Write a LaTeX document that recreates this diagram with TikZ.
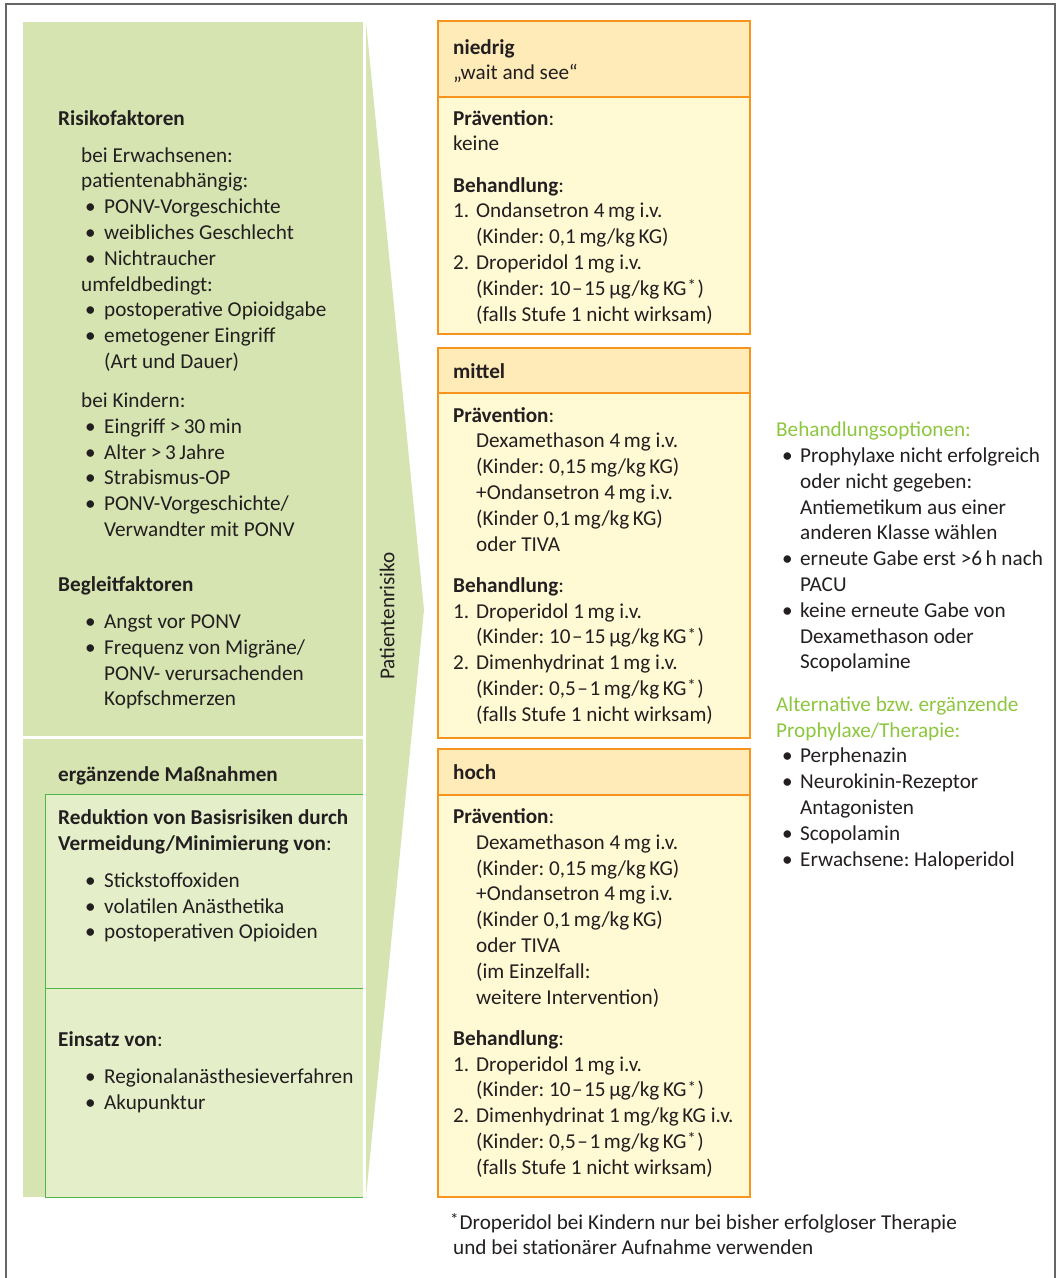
\documentclass[tikz,border=0pt]{standalone}
\usepackage{fontspec}
\setmainfont{Carlito}
\definecolor{greenA}{HTML}{D5E4B1}
\definecolor{greenB}{HTML}{E4EFCA}
\definecolor{greenLine}{HTML}{4DB848}
\definecolor{orangeB}{HTML}{F7941D}
\definecolor{hdr}{HTML}{FFEBB8}
\definecolor{bodyc}{HTML}{FFF9D4}
\definecolor{ink}{HTML}{231F20}
\definecolor{greenHead}{HTML}{8DC63F}
\definecolor{frameg}{HTML}{666666}
\newcommand\blk[2]{\parbox[t]{#1}{\raggedright\frenchspacing\fontsize{21.2}{25.8}\selectfont #2}}
\newcommand\lbu{\hspace*{27pt}\makebox[19pt][l]{•}}
\newcommand\lco{\hspace*{46pt}}
\newcommand\lsub{\hspace*{23pt}}
\newcommand\rbu{\hspace*{6pt}\makebox[18pt][l]{•}}
\newcommand\rco{\hspace*{24pt}}
\newcommand\bn[1]{\makebox[23pt][l]{#1}}
\newcommand\bi{\hspace*{23pt}}
\newcommand\astx{\raisebox{0.35ex}{\fontsize{17}{17}\selectfont *}}
\newcommand\stern{\kern1pt\astx\kern1.5pt}
\newcommand\bis{\kern1.5pt–\kern1.5pt}
\begin{document}
\begin{tikzpicture}[x=1pt,y=-1pt,
  txt/.style={anchor=base west, inner sep=0pt, text=ink},
  boxline/.style={draw=orangeB, line width=1.3pt},
  greenrule/.style={draw=greenLine, line width=1pt}]
\useasboundingbox (0,0) rectangle (1056,1278);
% outer frame
\draw[frameg, line width=2pt] (6,1278) -- (6,4) -- (1055,4) -- (1055,1278);
% left panel
\fill[greenA] (23,22) rectangle (363,736);
\fill[greenA] (23,739) rectangle (363,1197);
\fill[greenB] (45,794) rectangle (363,1197);
\draw[greenrule] (363,794) -- (45,794) -- (45,1197) -- (363,1197);
\draw[greenrule] (45,988) -- (363,988);
% arrow wedge
\fill[greenA] (366,22) -- (424,610) -- (366,1197) -- cycle;
\node[rotate=90, inner sep=0pt, text=ink, font=\fontsize{21.2}{25}\selectfont] (pr) at (387,616) {Patientenrisiko};
% left texts
\node[txt] (risk) at (58,125) {\blk{300pt}{%
\textbf{Risikofaktoren}\\[11.2pt]
\lsub bei Erwachsenen:\\
\lsub patientenabhängig:\\
\lbu PONV-Vorgeschichte\\
\lbu weibliches Geschlecht\\
\lbu Nichtraucher\\
\lsub umfeldbedingt:\\
\lbu postoperative Opioidgabe\\
\lbu emetogener Eingriff\\
\lco (Art und Dauer)\\[13.2pt]
\lsub bei Kindern:\\
\lbu Eingriff >\,30\,min\\
\lbu Alter >\,3\,Jahre\\
\lbu Strabismus-OP\\
\lbu PONV-Vorgeschichte/\\
\lco Verwandter mit PONV\\[29.2pt]
\textbf{Begleitfaktoren}\\[11.2pt]
\lbu Angst vor PONV\\
\lbu Frequenz von Migräne/\\
\lco PONV- verursachenden\\
\lco Kopfschmerzen}};
\node[txt] (erg) at (58,781) {\blk{300pt}{\textbf{ergänzende Maßnahmen}}};
\node[txt] (red) at (58,824.5) {\blk{310pt}{%
\textbf{Reduktion von Basisrisiken durch}\\
\textbf{Vermeidung/Minimierung von}:\\[11.2pt]
\lbu Stickstoffoxiden\\
\lbu volatilen Anästhetika\\
\lbu postoperativen Opioiden}};
\node[txt] (eins) at (58,1046.5) {\blk{310pt}{%
\textbf{Einsatz von}:\\[11.2pt]
\lbu Regionalanästhesieverfahren\\
\lbu Akupunktur}};
% box niedrig
\fill[hdr] (438,21) rectangle (750,97);
\fill[bodyc] (438,97) rectangle (750,334);
\draw[boxline] (438,21) rectangle (750,334);
\draw[boxline] (438,97) -- (750,97);
\node[txt] (nh) at (453,54) {\blk{290pt}{\textbf{niedrig}\\„wait and see“}};
\node[txt] (nb) at (453,125) {\blk{290pt}{%
\textbf{Prävention}:\\
keine\\[15.4pt]
\textbf{Behandlung}:\\
\bn{1.}Ondansetron 4\,mg i.v.\\
\bi(Kinder: 0,1\,mg/kg\,KG)\\
\bn{2.}Droperidol 1\,mg i.v.\\
\bi(Kinder: 10\bis15\,µg/kg\,KG\stern)\\
\bi(falls Stufe 1 nicht wirksam)}};
% box mittel
\fill[hdr] (438,348) rectangle (750,393);
\fill[bodyc] (438,393) rectangle (750,738);
\draw[boxline] (438,348) rectangle (750,738);
\draw[boxline] (438,393) -- (750,393);
\node[txt] (mh) at (453,378) {\blk{290pt}{\textbf{mittel}}};
\node[txt] (mb) at (453,422) {\blk{290pt}{%
\textbf{Prävention}:\\
\bi Dexamethason 4\,mg i.v.\\
\bi(Kinder: 0,15\,mg/kg\,KG)\\
\bi+Ondansetron 4\,mg i.v.\\
\bi(Kinder 0,1\,mg/kg\,KG)\\
\bi oder TIVA\\[15.4pt]
\textbf{Behandlung}:\\
\bn{1.}Droperidol 1\,mg i.v.\\
\bi(Kinder: 10\bis15\,µg/kg\,KG\stern)\\
\bn{2.}Dimenhydrinat 1\,mg i.v.\\
\bi(Kinder: 0,5\bis1\,mg/kg\,KG\stern)\\
\bi(falls Stufe 1 nicht wirksam)}};
% box hoch
\fill[hdr] (438,749) rectangle (750,795);
\fill[bodyc] (438,795) rectangle (750,1197);
\draw[boxline] (438,749) rectangle (750,1197);
\draw[boxline] (438,795) -- (750,795);
\node[txt] (hh) at (453,779) {\blk{290pt}{\textbf{hoch}}};
\node[txt] (hb) at (453,823.5) {\blk{300pt}{%
\textbf{Prävention}:\\
\bi Dexamethason 4\,mg i.v.\\
\bi(Kinder: 0,15\,mg/kg\,KG)\\
\bi+Ondansetron 4\,mg i.v.\\
\bi(Kinder 0,1\,mg/kg\,KG)\\
\bi oder TIVA\\
\bi(im Einzelfall:\\
\bi weitere Intervention)\\[15.4pt]
\textbf{Behandlung}:\\
\bn{1.}Droperidol 1\,mg i.v.\\
\bi(Kinder: 10\bis15\,µg/kg\,KG\stern)\\
\bn{2.}Dimenhydrinat 1\,mg/kg\,KG i.v.\\
\bi(Kinder: 0,5\bis1\,mg/kg\,KG\stern)\\
\bi(falls Stufe 1 nicht wirksam)}};
% right column
\node[txt] (opt) at (776,422) {\blk{280pt}{%
{\color{greenHead}Behandlungsoptionen:}\\
\rbu Prophylaxe nicht erfolgreich\\
\rco oder nicht gegeben:\\
\rco Antiemetikum aus einer\\
\rco anderen Klasse wählen\\
\rbu erneute Gabe erst >6\,h nach\\
\rco PACU\\
\rbu keine erneute Gabe von\\
\rco Dexamethason oder\\
\rco Scopolamine\\[16.6pt]
{\color{greenHead}Alternative bzw. ergänzende}\\
{\color{greenHead}Prophylaxe/Therapie:}\\
\rbu Perphenazin\\
\rbu Neurokinin-Rezeptor\\
\rco Antagonisten\\
\rbu Scopolamin\\
\rbu Erwachsene: Haloperidol}};
% footnote
\node[txt] (fn) at (450,1229) {\blk{560pt}{%
\astx\kern1pt Droperidol bei Kindern nur bei bisher erfolgloser Therapie\\
\hspace*{3pt}und bei stationärer Aufnahme verwenden}};
\end{tikzpicture}
\end{document}
